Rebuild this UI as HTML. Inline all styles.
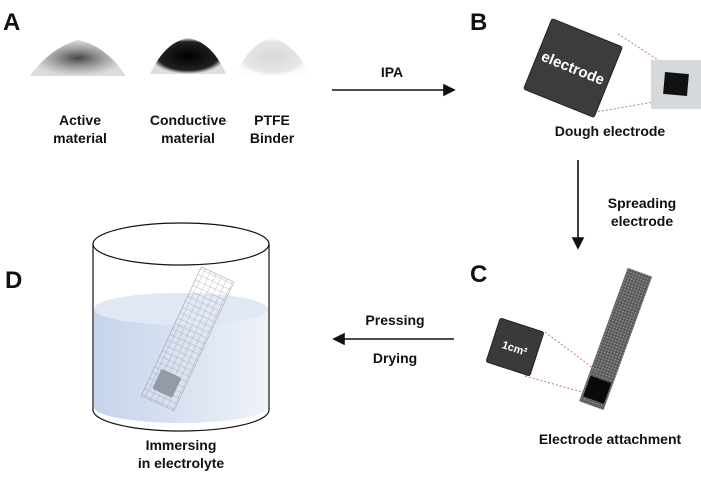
<!DOCTYPE html>
<html><head><meta charset="utf-8"><style>
html,body{margin:0;padding:0;background:#fff}
svg{display:block}
text{font-family:"Liberation Sans",Arial,sans-serif;font-weight:bold;fill:#111}
</style></head><body>
<svg width="701" height="482" viewBox="0 0 701 482" xmlns="http://www.w3.org/2000/svg">
<defs>
<linearGradient id="liq" x1="0" x2="1"><stop offset="0" stop-color="#c5d3ea"/><stop offset="1" stop-color="#eef2f9"/></linearGradient>
<pattern id="grid" width="6" height="6" patternUnits="userSpaceOnUse"><path d="M0 0H6M0 0V6" stroke="#999" stroke-width="0.7" fill="none"/></pattern>
<pattern id="mesh" width="3" height="3" patternUnits="userSpaceOnUse"><rect width="3" height="3" fill="#5a5a5a"/><circle cx="1.5" cy="1.5" r="0.8" fill="#999"/></pattern>
<radialGradient id="pw1"><stop offset="0" stop-color="#444"/><stop offset="1" stop-color="#888" stop-opacity="0.3"/></radialGradient>
<radialGradient id="pw2"><stop offset="0" stop-color="#000"/><stop offset="0.8" stop-color="#222"/><stop offset="1" stop-color="#555" stop-opacity="0.2"/></radialGradient>
<radialGradient id="pw3"><stop offset="0" stop-color="#d8d8d8"/><stop offset="0.8" stop-color="#e6e6e6"/><stop offset="1" stop-color="#f4f4f4" stop-opacity="0.3"/></radialGradient>
</defs>
<text x="3" y="30" font-size="24">A</text>
<text x="470" y="30" font-size="24">B</text>
<text x="470" y="282" font-size="24">C</text>
<text x="5" y="288" font-size="24">D</text>
<path d="M30 76 Q50 48 78 40 Q105 45 126 76 Z" fill="url(#pw1)"/>
<path d="M150 74 Q165 42 188 38 Q212 42 226 74 Z" fill="url(#pw2)"/>
<path d="M235 76 Q250 42 272 38 Q296 44 310 76 Z" fill="url(#pw3)"/>
<g font-size="14" text-anchor="middle">
<text x="80" y="125">Active</text><text x="80" y="143">material</text>
<text x="188" y="125">Conductive</text><text x="188" y="143">material</text>
<text x="272" y="125">PTFE</text><text x="272" y="143">Binder</text>
<text x="392" y="77">IPA</text>
<text x="610" y="136">Dough electrode</text>
<text x="642" y="208">Spreading</text><text x="642" y="226">electrode</text>
<text x="395" y="325">Pressing</text>
<text x="395" y="363">Drying</text>
<text x="610" y="444">Electrode attachment</text>
<text x="181" y="450">Immersing</text><text x="181" y="468">in electrolyte</text>
</g>
<g stroke="#111" stroke-width="1.6" fill="#111">
<line x1="332" y1="90" x2="446" y2="90"/><path d="M454 90 L444 85 L444 95Z"/>
<line x1="578" y1="160" x2="578" y2="240"/><path d="M578 248 L573 238 L583 238Z"/>
<line x1="454" y1="339" x2="342" y2="339"/><path d="M334 339 L344 334 L344 344Z"/>
</g>
<line x1="618" y1="34" x2="683" y2="76" stroke="#c77" stroke-dasharray="2,2"/>
<line x1="590" y1="113" x2="683" y2="97" stroke="#c77" stroke-dasharray="2,2"/>
<rect x="651" y="60" width="50" height="49" fill="#d6d9dc"/>
<rect x="664" y="73" width="24" height="22" fill="#111" transform="rotate(5 676 84)"/>
<g transform="rotate(22 573 68)">
<rect x="535" y="30" width="76" height="76" fill="#3c3c3c" stroke="#222" rx="2"/>
<text x="573" y="73" font-size="15" text-anchor="middle" style="fill:#fff">electrode</text>
</g>
<g transform="rotate(20 616 338)">
<rect x="603" y="268" width="26" height="142" fill="url(#mesh)"/>
<rect x="605" y="382" width="22" height="22" fill="#0a0a0a"/>
</g>
<line x1="545" y1="332" x2="597" y2="371" stroke="#c77" stroke-dasharray="2,2"/>
<line x1="525" y1="376" x2="582" y2="392" stroke="#c77" stroke-dasharray="2,2"/>
<g transform="rotate(18 515 347)">
<rect x="492" y="324" width="46" height="46" fill="#3a3a3a" stroke="#222" rx="2"/>
<text x="515" y="352" font-size="11" text-anchor="middle" style="fill:#fff">1cm²</text>
</g>
<path d="M94 309 A87 16 0 0 1 268 309 L268 407 A87 16 0 0 1 94 407 Z" fill="url(#liq)"/>
<ellipse cx="181" cy="309" rx="87" ry="16" fill="#e2e8f3"/>
<g transform="rotate(25 188 338)" opacity="0.85">
<rect x="170" y="268" width="36" height="142" fill="url(#grid)" stroke="#999" stroke-width="0.6"/>
<rect x="177" y="377" width="22" height="22" fill="#8a8f99" rx="2"/>
</g>
<path d="M93 244 L93 410 A88 21 0 0 0 269 410 L269 244" fill="none" stroke="#111" stroke-width="1.2"/>
<ellipse cx="181" cy="244" rx="88" ry="21" fill="none" stroke="#111" stroke-width="1.2"/>
</svg>
</body></html>
